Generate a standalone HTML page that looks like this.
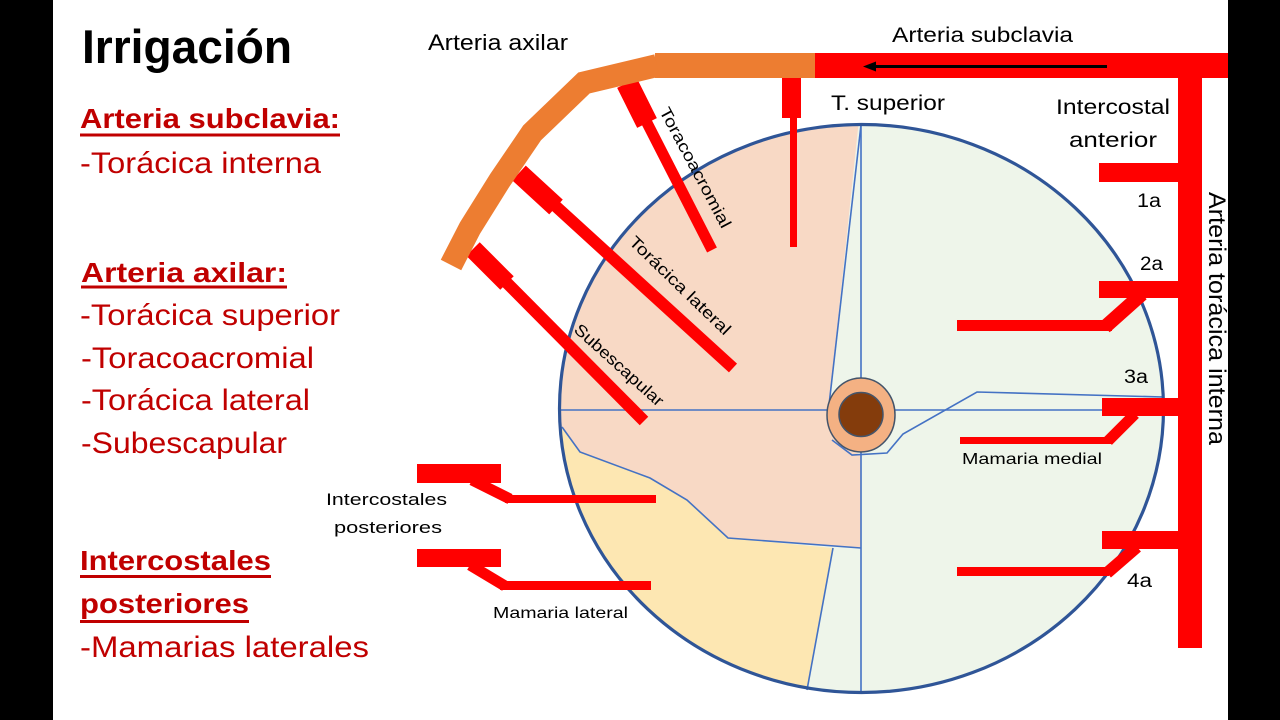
<!DOCTYPE html>
<html><head><meta charset="utf-8"><style>
html,body{margin:0;padding:0;background:#000;}
svg{display:block}
text{font-family:"Liberation Sans",sans-serif;}
</style></head><body>
<svg width="1280" height="720" viewBox="0 0 1280 720" xmlns="http://www.w3.org/2000/svg">
<rect x="0" y="0" width="1280" height="720" fill="#000"/>
<rect x="53" y="0" width="1175" height="720" fill="#fff"/>
<defs><clipPath id="ell"><ellipse cx="861.5" cy="408.5" rx="302" ry="284"/></clipPath></defs>

<!-- breast -->
<ellipse cx="861.5" cy="408.5" rx="302" ry="284" fill="#eef5ea"/>
<g clip-path="url(#ell)">
<polygon fill="#f8d9c5" points="861,100 829,405 840,445 861,455 861,548 728,538 687,500 650,478 580,452 562,427 540,427 540,100"/>
<polygon fill="#fde7b2" points="562,427 580,452 650,478 687,500 728,538 833,548 807,690 807,720 540,720"/>
</g>
<g stroke="#4472c4" stroke-width="1.6" fill="none">
<line x1="861" y1="125" x2="861" y2="380"/>
<line x1="861" y1="452" x2="861" y2="692"/>
<line x1="861" y1="125" x2="829" y2="405"/>
<line x1="560" y1="410" x2="828" y2="410"/>
<line x1="894" y1="410" x2="1163" y2="410"/>
<polyline points="832,440 852,455 887,453 903,434 977,392 1163,397"/>
<polyline points="562,427 580,452 650,478 687,500 728,538 861,548"/>
<line x1="833" y1="548" x2="807" y2="690"/>
</g>
<ellipse cx="861.5" cy="408.5" rx="302" ry="284" fill="none" stroke="#2f5597" stroke-width="3.2"/>
<ellipse cx="861" cy="415" rx="34" ry="37" fill="#f4b183" stroke="#44546a" stroke-width="1.5"/>
<circle cx="861" cy="414.5" r="22" fill="#843c0c" stroke="#44546a" stroke-width="1.5"/>

<!-- red branches -->
<g stroke="#ff0000" fill="none">
<line x1="627" y1="83" x2="647" y2="123" stroke-width="22"/>
<line x1="643" y1="115" x2="712" y2="250" stroke-width="11"/>
<line x1="519" y1="173" x2="556" y2="207" stroke-width="20"/>
<line x1="550" y1="201" x2="733" y2="368" stroke-width="12"/>
<line x1="473" y1="249" x2="507" y2="283" stroke-width="19"/>
<line x1="503" y1="279" x2="644" y2="421" stroke-width="12"/>
<line x1="1142" y1="294" x2="1105" y2="327" stroke-width="14"/>
<line x1="1135" y1="414" x2="1108" y2="441" stroke-width="11"/>
<line x1="1137" y1="547" x2="1107" y2="573" stroke-width="12"/>
<line x1="472" y1="480" x2="510" y2="499" stroke-width="11"/>
<line x1="470" y1="565" x2="505" y2="586" stroke-width="11"/>
</g>
<g fill="#ff0000">
<rect x="815" y="53" width="413" height="25"/>
<rect x="1178" y="53" width="24" height="595"/>
<rect x="782" y="78" width="19" height="40"/>
<rect x="790" y="116" width="7" height="131"/>
<rect x="1099" y="163" width="79" height="19"/>
<rect x="1099" y="281" width="79" height="17"/>
<rect x="957" y="320" width="155" height="11"/>
<rect x="1102" y="398" width="76" height="18"/>
<rect x="960" y="437" width="152" height="7"/>
<rect x="1102" y="531" width="76" height="18"/>
<rect x="957" y="567" width="152" height="9"/>
<rect x="417" y="464" width="84" height="19"/>
<rect x="505" y="495" width="151" height="8"/>
<rect x="417" y="549" width="84" height="18"/>
<rect x="500" y="581" width="151" height="9"/>
</g>

<!-- axillary (orange) -->
<rect x="655" y="53" width="160" height="25" fill="#ed7d31"/>
<polyline points="657,65.5 584,83 532,133 500,180 470,228 451,265" fill="none" stroke="#ed7d31" stroke-width="23" stroke-linejoin="miter"/>

<!-- arrow -->
<line x1="1107" y1="66.5" x2="872" y2="66.5" stroke="#000" stroke-width="3"/>
<polygon points="863,66.5 876,61.5 876,71.5" fill="#000"/>

<!-- diagram labels -->
<g fill="#000">
<text x="428" y="50" font-size="22" textLength="140" lengthAdjust="spacingAndGlyphs">Arteria axilar</text>
<text x="892" y="42" font-size="21" textLength="181" lengthAdjust="spacingAndGlyphs">Arteria subclavia</text>
<text x="831" y="110" font-size="21" textLength="114" lengthAdjust="spacingAndGlyphs">T. superior</text>
<text x="1056" y="114" font-size="21" textLength="114" lengthAdjust="spacingAndGlyphs">Intercostal</text>
<text x="1069" y="147" font-size="21" textLength="88" lengthAdjust="spacingAndGlyphs">anterior</text>
<text x="1137" y="207" font-size="19" textLength="24" lengthAdjust="spacingAndGlyphs">1a</text>
<text x="1140" y="270" font-size="19" textLength="23" lengthAdjust="spacingAndGlyphs">2a</text>
<text x="1124" y="383" font-size="19" textLength="24" lengthAdjust="spacingAndGlyphs">3a</text>
<text x="1127" y="587" font-size="19" textLength="25" lengthAdjust="spacingAndGlyphs">4a</text>
<text x="962" y="464" font-size="16" textLength="140" lengthAdjust="spacingAndGlyphs">Mamaria medial</text>
<text x="326" y="505" font-size="17" textLength="121" lengthAdjust="spacingAndGlyphs">Intercostales</text>
<text x="334" y="533" font-size="17" textLength="108" lengthAdjust="spacingAndGlyphs">posteriores</text>
<text x="493" y="618" font-size="16" textLength="135" lengthAdjust="spacingAndGlyphs">Mamaria lateral</text>
<text transform="translate(1209,192) rotate(90)" font-size="24" textLength="253" lengthAdjust="spacingAndGlyphs">Arteria torácica interna</text>
<text transform="translate(659,111) rotate(62)" font-size="16.5" textLength="134" lengthAdjust="spacingAndGlyphs">Toracoacromial</text>
<text transform="translate(628,243) rotate(44)" font-size="16.5" textLength="134" lengthAdjust="spacingAndGlyphs">Torácica lateral</text>
<text transform="translate(573,331) rotate(42)" font-size="16.5" textLength="114" lengthAdjust="spacingAndGlyphs">Subescapular</text>
</g>

<!-- left text -->
<text x="82" y="63" font-size="47" font-weight="bold" fill="#000" textLength="210" lengthAdjust="spacingAndGlyphs">Irrigación</text>
<g fill="#c00000">
<text x="80" y="128" font-size="28" font-weight="bold" textLength="260" lengthAdjust="spacingAndGlyphs">Arteria subclavia:</text>
<rect x="80" y="133.5" width="260" height="3"/>
<text x="80" y="173" font-size="30" textLength="241" lengthAdjust="spacingAndGlyphs">-Torácica interna</text>
<text x="81" y="282" font-size="28" font-weight="bold" textLength="206" lengthAdjust="spacingAndGlyphs">Arteria axilar:</text>
<rect x="81" y="285.5" width="206" height="3"/>
<text x="80" y="325" font-size="30" textLength="260" lengthAdjust="spacingAndGlyphs">-Torácica superior</text>
<text x="81" y="368" font-size="30" textLength="233" lengthAdjust="spacingAndGlyphs">-Toracoacromial</text>
<text x="81" y="410" font-size="30" textLength="229" lengthAdjust="spacingAndGlyphs">-Torácica lateral</text>
<text x="81" y="453" font-size="30" textLength="206" lengthAdjust="spacingAndGlyphs">-Subescapular</text>
<text x="80" y="570" font-size="28" font-weight="bold" textLength="191" lengthAdjust="spacingAndGlyphs">Intercostales</text>
<rect x="80" y="575" width="191" height="3"/>
<text x="80" y="613" font-size="28" font-weight="bold" textLength="169" lengthAdjust="spacingAndGlyphs">posteriores</text>
<rect x="80" y="620" width="169" height="3"/>
<text x="80" y="657" font-size="30" textLength="289" lengthAdjust="spacingAndGlyphs">-Mamarias laterales</text>
</g>
</svg>
</body></html>
